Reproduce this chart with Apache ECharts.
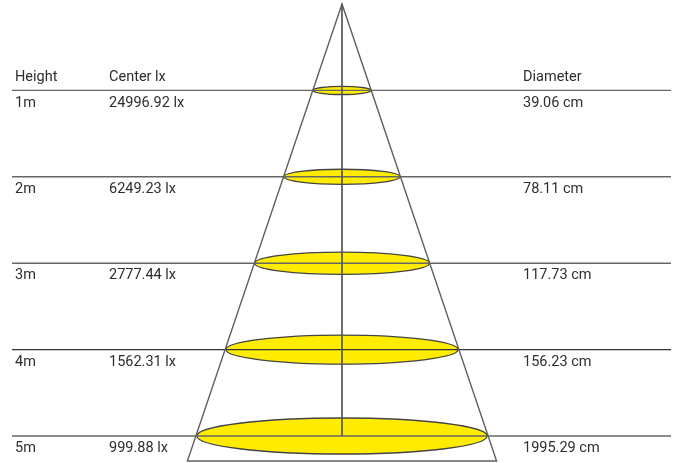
<!DOCTYPE html>
<html><head><meta charset="utf-8">
<script src="https://cdn.jsdelivr.net/npm/echarts@6/dist/echarts.min.js"></script>
<style>html,body{margin:0;padding:0;background:#fff}#c{width:681px;height:463px}</style>
</head><body><div id="c"></div>
<script>
// ---- data ----
const heights = [1, 2, 3, 4, 5];                                  // m
const heightLabels = ['1m', '2m', '3m', '4m', '5m'];
const centerLux = [24996.92, 6249.23, 2777.44, 1562.31, 999.88];  // lx
const beamDiameters = [39.06, 78.11, 117.73, 156.23, 195.29];     // drawn spot size, cm
const diameterLabels = [39.06, 78.11, 117.73, 156.23, 1995.29];   // printed values, cm
const headers = ['Height', 'Center lx', 'Diameter'];
const coneDepth = 5.29;     // m, bottom of the drawn cone
const coneRadius = 104;     // cm, half width at coneDepth

// ---- layout / style ----
const FONT = '14.5px Roboto, "Open Sans", sans-serif';
const TEXT_COLOR = '#2e2e2e';
const colX = [15, 109, 523];      // text column left edges (px)
const rowLineX = [12, 671];       // horizontal rule extents (px)
const rowTextDy = 12.5;           // row text middle below rule
const headTextDy = -13.5;         // header text middle above rule
const lineColor = '#5f5f5f';
const rowLineColors = ['#666', '#666', '#666', '#333', '#666'];
const flatten = 0.12, flattenAdd = 0.6;

const chart = echarts.init(document.getElementById('c'), null, {renderer: 'canvas'});

const rowData = heights.map((h, i) => [beamDiameters[i], h, i]);

chart.setOption({
  animation: false,
  backgroundColor: '#fff',
  grid: {left: 12, right: 9, top: 4, bottom: 0},
  xAxis: {type: 'value', min: -222, max: 222, show: false},
  yAxis: {type: 'value', min: 0, max: 5.3125, inverse: true, show: false},
  series: [
    // beam ellipses
    {
      type: 'custom', z: 1, clip: false,
      data: rowData,
      renderItem: function (params, api) {
        const d = api.value(0), h = api.value(1);
        const c = api.coord([0, h]);
        const e = api.coord([d / 2, h]);
        const rx = e[0] - c[0];
        const ry = rx * flatten + flattenAdd;
        return {
          type: 'ellipse',
          shape: {cx: c[0], cy: c[1], rx: rx, ry: ry},
          style: {fill: '#ffec00', stroke: '#444', lineWidth: 1.3}
        };
      }
    },
    // horizontal rules
    {
      type: 'custom', z: 2, clip: false,
      data: rowData,
      renderItem: function (params, api) {
        const c = api.coord([0, api.value(1)]);
        return {
          type: 'line',
          shape: {x1: rowLineX[0], y1: c[1], x2: rowLineX[1], y2: c[1]},
          style: {stroke: rowLineColors[api.value(2)], lineWidth: 1.4}
        };
      }
    },
    // cone + center line
    {
      type: 'custom', z: 3, clip: false,
      data: [[coneRadius, coneDepth, heights[heights.length - 1]]],
      renderItem: function (params, api) {
        const r = api.value(0), dpt = api.value(1), last = api.value(2);
        const apex = api.coord([0, 0]);
        const bl = api.coord([-r, dpt]);
        const br = api.coord([r, dpt]);
        const cb = api.coord([0, last]);
        return {
          type: 'group',
          children: [
            {type: 'polygon', shape: {points: [apex, bl, br]},
             style: {fill: 'none', stroke: lineColor, lineWidth: 1.4}},
            {type: 'line', shape: {x1: apex[0], y1: apex[1], x2: cb[0], y2: cb[1]},
             style: {stroke: '#555', lineWidth: 1.7}}
          ]
        };
      }
    },
    // row texts
    {
      type: 'custom', z: 4, clip: false,
      data: heights.map((h, i) => [h, centerLux[i], diameterLabels[i], i]),
      renderItem: function (params, api) {
        const i = api.value(3);
        const y = api.coord([0, api.value(0)])[1] + rowTextDy;
        const texts = [heightLabels[i], api.value(1).toFixed(2) + ' lx', api.value(2).toFixed(2) + ' cm'];
        return {
          type: 'group',
          children: texts.map((t, k) => ({
            type: 'text',
            style: {text: t, x: colX[k], y: y, font: FONT, fill: TEXT_COLOR,
                    align: 'left', verticalAlign: 'middle'}
          }))
        };
      }
    },
    // header texts
    {
      type: 'custom', z: 4, clip: false,
      data: [[heights[0]]],
      renderItem: function (params, api) {
        const y = api.coord([0, api.value(0)])[1] + headTextDy;
        return {
          type: 'group',
          children: headers.map((t, k) => ({
            type: 'text',
            style: {text: t, x: colX[k], y: y, font: FONT, fill: TEXT_COLOR,
                    align: 'left', verticalAlign: 'middle'}
          }))
        };
      }
    }
  ]
});
</script>
</body></html>
